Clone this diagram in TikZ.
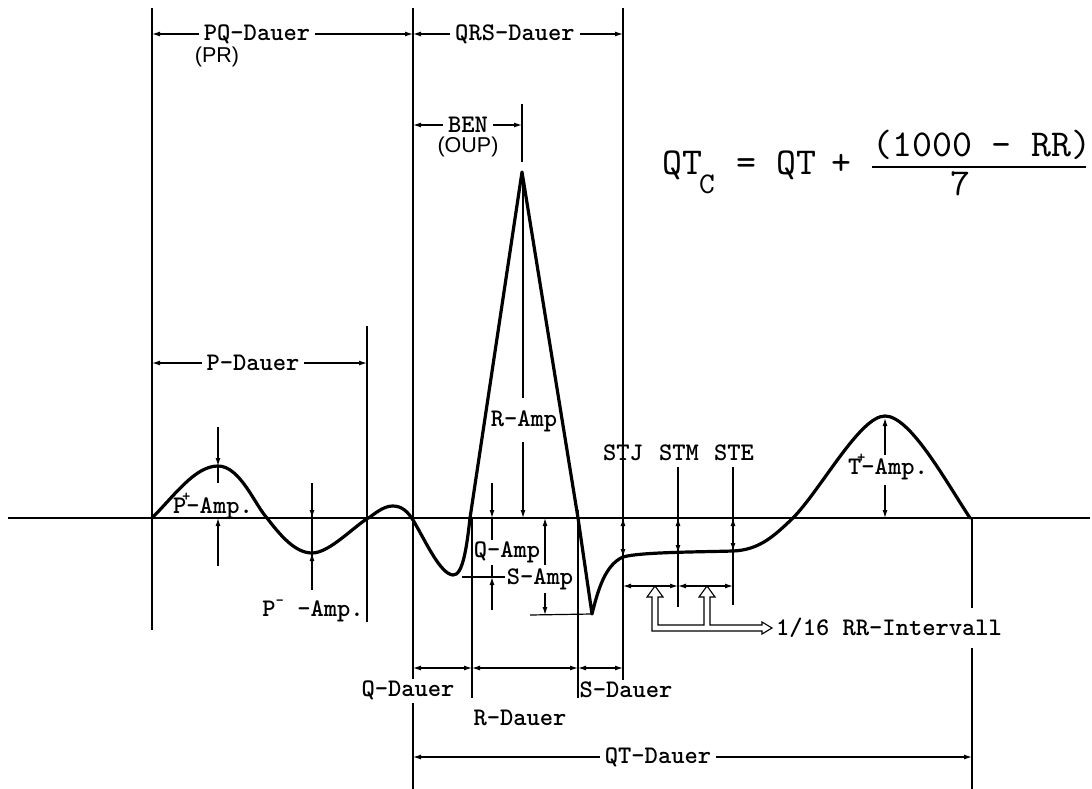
\documentclass[tikz,border=0pt]{standalone}
\usepackage{fontspec}
\usetikzlibrary{arrows.meta}
\newfontfamily\labfont{lmmonolt10-bold.otf}
\newfontfamily\frmfont{lmmono10-regular.otf}
\newfontfamily\parenfont{Liberation Sans}
\begin{document}
\begin{tikzpicture}[x=1pt,y=-1pt,
  thinln/.style={line width=1.2pt},
  ecg/.style={line width=3.2pt, line join=round, line cap=round},
  dim/.style={line width=1.2pt, {Latex[length=8pt,width=5pt]}-{Latex[length=8pt,width=5pt]}},
  tipln/.style={line width=1.2pt, -{Latex[length=8pt,width=5pt]}},
  lab/.style={font=\labfont\fontsize{25.3}{28}\selectfont, inner sep=0pt},
  labw/.style={lab, fill=white, inner xsep=5pt, inner ysep=1pt},
  paren/.style={font=\parenfont\fontsize{21.5}{23}\selectfont, inner sep=0pt},
  frm/.style={font=\frmfont\fontsize{38}{40}\selectfont, inner sep=0pt, anchor=base west},
]
\useasboundingbox (0,0) rectangle (1092,789);
\fill[white] (0,0) rectangle (1092,789);

% key points
\coordinate (b0) at (8,518);
\coordinate (b1) at (1090,518);
\coordinate (Pon) at (152,518);
\coordinate (Ppk) at (218,466);
\coordinate (Ptr) at (312,553);
\coordinate (Qon) at (413,520);
\coordinate (Qtr) at (453,575);
\coordinate (Ron) at (470,518);
\coordinate (Rpk) at (522,172);
\coordinate (Rof) at (578,518);
\coordinate (Str) at (592,614);
\coordinate (Jpt) at (623,557);
\coordinate (Mpt) at (678,553);
\coordinate (Ept) at (733,551);
\coordinate (Tpk) at (885,416);
\coordinate (Tof) at (970,518);

% baseline
\draw[line width=1.5pt] (b0) -- (b1);

% vertical reference lines
\draw[thinln] (152,8) -- (152,630);
\draw[thinln] (413,8) -- (413,679);
\draw[thinln] (413,703) -- (413,789);
\draw[thinln] (623,8) -- (623,680);
\draw[thinln] (367,326) -- (367,622);
\draw[thinln] (522,104) -- (522,162);
\draw[thinln] (472,518) -- (472,698);
\draw[thinln] (578,510) -- (578,698);
\draw[thinln] (972,518) -- (972,608);
\draw[thinln] (972,648) -- (972,789);
\draw[thinln] (678,467) -- (678,607);
\draw[thinln] (733,467) -- (733,605);

% ECG curve
\draw[ecg] (Pon) .. controls (175,495) and (195,466) .. (Ppk)
  .. controls (240,466) and (255,505) .. (267,518)
  .. controls (280,535) and (295,553) .. (Ptr)
  .. controls (330,553) and (355,525) .. (370,517)
  .. controls (378,511) and (385,506) .. (393,506)
  .. controls (402,506) and (408,512) .. (Qon)
  .. controls (425,540) and (440,574) .. (Qtr)
  .. controls (463,576) and (467,545) .. (Ron)
  -- (Rpk) -- (Rof) -- (Str)
  .. controls (598,590) and (605,565) .. (Jpt)
  .. controls (640,552) and (700,552) .. (Ept)
  .. controls (760,550) and (775,535) .. (793,518)
  .. controls (822,488) and (860,416) .. (Tpk)
  .. controls (910,416) and (945,480) .. (Tof);

% top dimensions
\draw[dim] (152,34) -- (413,34);
\node[labw] (pq) at (257,34) {PQ-Dauer};
\node[paren] (pr) at (217,57) {(PR)};
\draw[dim] (413,34) -- (623,34);
\node[labw] (qrs) at (515,34) {QRS-Dauer};
\draw[dim] (413,125) -- (522,125);
\node[labw] (ben) at (468,125) {BEN};
\node[paren] (oup) at (468,147) {(OUP)};
\draw[dim] (152,363) -- (367,363);
\node[labw] (pd) at (253,363) {P-Dauer};

% formula
\node[frm] (f1) at (662,175) {QT};
\node[font=\frmfont\fontsize{30}{32}\selectfont, inner sep=0pt, anchor=base west] (f2) at (699,193) {C};
\node[frm] (f3) at (736,175) {=};
\node[frm] (f4) at (776,175) {QT};
\node[frm] (f5) at (831,175) {+};
\node[frm] (f6) at (872,157) {(1000 - RR)};
\draw[line width=1.5pt] (872,167) -- (1086,167);
\node[frm, anchor=base] (f7) at (960,195) {7};

% P amplitudes
\draw[tipln] (218,427) -- (Ppk);
\draw[thinln] (Ppk) -- (218,483);
\draw[tipln] (218,566) -- (218,518);
\node[lab] (pplus) at (213,506) {P\makebox[0pt][c]{\raisebox{0.5em}{\fontsize{16}{16}\selectfont +}}-Amp.};
\draw[thinln] (312,483) -- (312,590);
\draw[tipln] (312,500) -- (312,518);
\draw[tipln] (312,575) -- (Ptr);
\node[lab] (pminus) at (313,611) {P\raisebox{0.45em}{\fontsize{16}{16}\selectfont -} -Amp.};

% R amplitude
\draw[tipln] (523,398) -- (523,176);
\draw[tipln] (523,442) -- (523,518);
\node[lab] (ramp) at (524,421) {R-Amp};

% Q amplitude
\draw[tipln] (492,483) -- (492,518);
\draw[thinln] (492,518) -- (492,540);
\draw[tipln] (492,610) -- (492,577);
\draw[thinln] (492,577) -- (492,565);
\draw[thinln] (462,577) -- (505,577);
\node[lab] (qamp) at (507,552) {Q-Amp};

% S amplitude
\draw[tipln] (545,565) -- (545,518);
\draw[tipln] (545,593) -- (545,615);
\draw[thinln] (530,615) -- (Str);
\node[lab] (samp) at (540,579) {S-Amp};

% T amplitude
\draw[tipln] (885,455) -- (885,418);
\draw[tipln] (885,485) -- (885,518);
\node[lab] (tamp) at (888,467) {T\makebox[0pt][c]{\raisebox{0.5em}{\fontsize{16}{16}\selectfont +}}-Amp.};

% ST points
\node[lab] (stj) at (623,453) {STJ};
\node[lab] (stm) at (679,453) {STM};
\node[lab] (ste) at (734,453) {STE};
\draw[dim] (623,518) -- (Jpt);
\draw[dim] (678,518) -- (Mpt);
\draw[dim] (733,518) -- (Ept);
\draw[dim] (623,586) -- (678,586);
\draw[dim] (678,586) -- (733,586);

% 1/16 RR hollow arrows
\draw[line width=1.1pt, fill=white, line join=miter]
  (652,631) -- (652,597) -- (647,597) -- (655,586) -- (663,597) -- (658,597)
  -- (658,625) -- (704,625) -- (704,597) -- (699,597) -- (707,586) -- (715,597)
  -- (710,597) -- (710,625) -- (762,625) -- (762,622) -- (772,628) -- (762,634)
  -- (762,631) -- cycle;
\node[lab, anchor=west] (rr) at (776,628) {1/16 RR-Intervall};

% bottom dimensions
\draw[dim] (413,668) -- (472,668);
\draw[dim] (472,668) -- (578,668);
\draw[dim] (578,668) -- (623,668);
\node[lab] (qd) at (408,690) {Q-Dauer};
\node[lab] (sd) at (626,690) {S-Dauer};
\node[lab] (rd) at (520,718) {R-Dauer};
\draw[dim] (413,757) -- (972,757);
\node[labw] (qt) at (658,757) {QT-Dauer};
\end{tikzpicture}
\end{document}
